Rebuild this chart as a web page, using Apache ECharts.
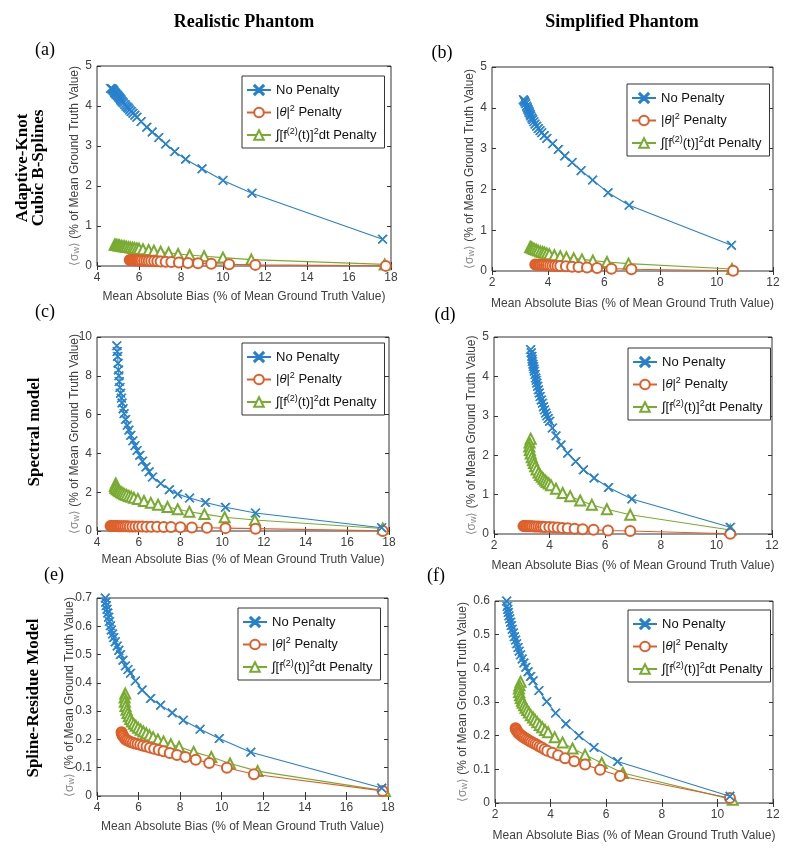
<!DOCTYPE html>
<html>
<head>
<meta charset="utf-8">
<style>html,body{margin:0;padding:0;background:#fff;}#c{width:800px;height:857px;}</style>
<script src="https://cdn.jsdelivr.net/npm/echarts@6/dist/echarts.min.js"></script>
</head>
<body>
<div id="c"></div>
<script>
// ---------- data: [mean absolute bias, <sigma_w>] ----------
const seriesNames = ['No Penalty', '|θ|² Penalty', '∫[f⁽²⁾(t)]²dt Penalty'];

// (a) Realistic phantom, adaptive-knot cubic B-splines
const aNone = [[4.65,4.44],[4.7,4.43],[4.73,4.42],[4.77,4.4],[4.8,4.38],[4.83,4.35],[4.86,4.33],[4.89,4.31],[4.92,4.29],[4.96,4.27],[5.0,4.25],[5.04,4.22],[5.08,4.2],[5.12,4.17],[5.15,4.14],[5.2,4.11],[5.25,4.08],[5.32,4.04],[5.38,4.0],[5.44,3.97],[5.5,3.94],[5.56,3.9],[5.63,3.86],[5.71,3.82],[5.8,3.77],[5.9,3.72],[6.1,3.61],[6.37,3.47],[6.63,3.35],[6.94,3.21],[7.27,3.05],[7.7,2.86],[8.22,2.67],[9.0,2.43],[10.0,2.14],[11.38,1.82],[17.6,0.67]];
const aTheta = [[5.56,0.15],[5.6,0.15],[5.66,0.149],[5.71,0.148],[5.77,0.146],[5.83,0.145],[5.9,0.143],[5.97,0.141],[6.04,0.139],[6.13,0.136],[6.24,0.133],[6.35,0.13],[6.46,0.128],[6.58,0.125],[6.72,0.122],[6.87,0.119],[7.03,0.115],[7.27,0.108],[7.54,0.1],[7.9,0.09],[8.33,0.077],[8.81,0.067],[9.44,0.058],[10.29,0.042],[11.54,0.028],[17.75,0.003]];
const aF2 = [[4.84,0.53],[4.9,0.53],[4.95,0.525],[5.02,0.515],[5.08,0.51],[5.16,0.5],[5.24,0.495],[5.32,0.487],[5.4,0.48],[5.5,0.472],[5.59,0.465],[5.69,0.457],[5.79,0.448],[5.9,0.44],[6.0,0.43],[6.19,0.42],[6.46,0.4],[6.71,0.38],[7.03,0.358],[7.41,0.33],[7.86,0.3],[8.41,0.275],[9.1,0.245],[10.0,0.21],[11.35,0.16],[17.7,0.04]];

// (b) Simplified phantom, adaptive-knot cubic B-splines
const bNone = [[3.12,4.2],[3.15,4.17],[3.17,4.14],[3.2,4.1],[3.23,4.04],[3.26,4.0],[3.28,3.96],[3.31,3.92],[3.33,3.88],[3.36,3.84],[3.38,3.8],[3.42,3.75],[3.45,3.71],[3.49,3.66],[3.53,3.6],[3.59,3.55],[3.65,3.49],[3.71,3.44],[3.77,3.39],[3.86,3.32],[3.95,3.25],[4.16,3.12],[4.36,2.98],[4.59,2.82],[4.85,2.66],[5.17,2.46],[5.58,2.23],[6.13,1.92],[6.88,1.61],[10.52,0.63]];
const bTheta = [[3.54,0.158],[3.58,0.156],[3.63,0.154],[3.68,0.152],[3.73,0.15],[3.79,0.147],[3.85,0.144],[3.92,0.141],[3.99,0.138],[4.07,0.134],[4.15,0.13],[4.24,0.127],[4.33,0.125],[4.43,0.121],[4.63,0.114],[4.85,0.106],[5.08,0.097],[5.38,0.085],[5.74,0.073],[6.25,0.058],[6.96,0.042],[10.58,0.005]];
const bF2 = [[3.36,0.59],[3.4,0.575],[3.45,0.56],[3.5,0.54],[3.57,0.52],[3.64,0.5],[3.72,0.48],[3.8,0.465],[3.87,0.45],[3.95,0.43],[4.04,0.41],[4.22,0.385],[4.43,0.36],[4.65,0.335],[4.91,0.31],[5.2,0.285],[5.59,0.255],[6.09,0.22],[6.86,0.18],[10.54,0.05]];

// (c) Realistic phantom, spectral model
const cNone = [[4.95,9.55],[4.97,9.25],[4.99,9.0],[5.01,8.65],[5.03,8.3],[5.05,8.0],[5.07,7.7],[5.1,7.4],[5.13,7.1],[5.17,6.85],[5.2,6.6],[5.25,6.3],[5.3,6.05],[5.37,5.75],[5.45,5.45],[5.53,5.2],[5.62,4.93],[5.72,4.65],[5.82,4.4],[5.92,4.15],[6.05,3.9],[6.18,3.6],[6.35,3.3],[6.5,3.05],[6.66,2.78],[7.06,2.45],[7.47,2.13],[7.87,1.9],[8.44,1.7],[9.2,1.47],[10.16,1.22],[11.6,0.93],[17.65,0.17]];
const cTheta = [[4.65,0.26],[4.7,0.26],[4.76,0.258],[4.82,0.256],[4.88,0.255],[4.95,0.253],[5.02,0.251],[5.1,0.249],[5.18,0.247],[5.27,0.245],[5.36,0.243],[5.46,0.24],[5.57,0.238],[5.7,0.235],[5.84,0.232],[6.0,0.229],[6.17,0.226],[6.37,0.222],[6.6,0.218],[6.88,0.213],[7.2,0.208],[7.55,0.2],[8.0,0.19],[8.55,0.18],[9.27,0.165],[10.16,0.148],[11.6,0.12],[17.7,0.005]];
const cF2 = [[4.9,2.45],[4.86,2.32],[4.88,2.22],[4.95,2.15],[5.02,2.1],[5.08,2.05],[5.16,2.0],[5.24,1.95],[5.32,1.9],[5.42,1.86],[5.53,1.81],[5.64,1.76],[5.77,1.71],[5.96,1.65],[6.25,1.55],[6.58,1.45],[6.93,1.35],[7.38,1.24],[7.87,1.12],[8.43,0.99],[9.15,0.87],[10.12,0.71],[11.57,0.57],[17.7,0.13]];

// (d) Simplified phantom, spectral model
const dNone = [[3.32,4.68],[3.34,4.6],[3.36,4.51],[3.37,4.44],[3.38,4.38],[3.4,4.31],[3.42,4.25],[3.44,4.19],[3.45,4.13],[3.48,4.05],[3.5,3.96],[3.52,3.9],[3.54,3.83],[3.57,3.75],[3.6,3.66],[3.63,3.58],[3.66,3.49],[3.7,3.4],[3.74,3.32],[3.78,3.23],[3.82,3.15],[3.86,3.07],[3.9,3.0],[3.95,2.93],[4.0,2.86],[4.1,2.69],[4.23,2.49],[4.41,2.26],[4.65,2.05],[4.94,1.84],[5.22,1.63],[5.6,1.42],[6.12,1.18],[6.96,0.89],[10.5,0.17]];
const dTheta = [[3.06,0.2],[3.1,0.2],[3.15,0.198],[3.2,0.197],[3.26,0.196],[3.32,0.195],[3.38,0.194],[3.45,0.192],[3.52,0.19],[3.6,0.188],[3.68,0.185],[3.76,0.183],[3.84,0.18],[3.99,0.175],[4.14,0.17],[4.29,0.162],[4.46,0.155],[4.65,0.145],[4.9,0.133],[5.19,0.12],[5.58,0.105],[6.1,0.09],[6.9,0.077],[10.5,0.005]];
const dF2 = [[3.32,2.42],[3.28,2.32],[3.27,2.22],[3.29,2.13],[3.32,2.04],[3.36,1.95],[3.4,1.87],[3.44,1.8],[3.48,1.72],[3.53,1.64],[3.6,1.56],[3.66,1.5],[3.72,1.45],[3.78,1.4],[3.84,1.36],[3.9,1.32],[3.97,1.28],[4.05,1.24],[4.23,1.15],[4.47,1.04],[4.74,0.96],[5.1,0.85],[5.52,0.74],[6.06,0.63],[6.9,0.49],[10.5,0.1]];

// (e) Realistic phantom, spline-residue model
const eNone = [[4.4,0.7],[4.42,0.685],[4.45,0.673],[4.48,0.66],[4.52,0.647],[4.56,0.632],[4.6,0.617],[4.65,0.602],[4.69,0.587],[4.75,0.573],[4.8,0.56],[4.88,0.545],[4.97,0.53],[5.05,0.515],[5.13,0.5],[5.25,0.48],[5.37,0.46],[5.49,0.447],[5.61,0.434],[5.85,0.407],[6.17,0.375],[6.58,0.345],[7.06,0.321],[7.62,0.294],[8.15,0.268],[8.96,0.236],[9.88,0.203],[11.4,0.155],[17.7,0.028]];
const eTheta = [[5.18,0.225],[5.2,0.22],[5.23,0.215],[5.27,0.21],[5.32,0.205],[5.38,0.2],[5.45,0.197],[5.53,0.194],[5.62,0.191],[5.72,0.188],[5.83,0.186],[5.95,0.184],[6.08,0.181],[6.22,0.178],[6.38,0.175],[6.55,0.171],[6.75,0.167],[6.97,0.163],[7.2,0.158],[7.5,0.152],[7.85,0.145],[8.25,0.138],[8.75,0.128],[9.4,0.117],[10.25,0.1],[11.55,0.077],[17.74,0.018]];
const eF2 = [[5.36,0.362],[5.33,0.348],[5.34,0.333],[5.37,0.318],[5.42,0.305],[5.47,0.293],[5.53,0.282],[5.6,0.272],[5.68,0.263],[5.77,0.255],[5.87,0.248],[5.98,0.241],[6.1,0.234],[6.23,0.228],[6.37,0.222],[6.52,0.215],[6.7,0.208],[6.93,0.2],[7.2,0.193],[7.55,0.183],[7.95,0.174],[8.65,0.156],[9.5,0.138],[10.4,0.115],[11.73,0.088],[17.85,0.018]];

// (f) Simplified phantom, spline-residue model
const fNone = [[2.42,0.6],[2.44,0.584],[2.46,0.575],[2.48,0.566],[2.5,0.556],[2.53,0.547],[2.56,0.537],[2.59,0.527],[2.62,0.516],[2.66,0.505],[2.7,0.494],[2.74,0.484],[2.78,0.473],[2.83,0.462],[2.87,0.451],[2.92,0.44],[2.98,0.428],[3.04,0.416],[3.11,0.403],[3.19,0.39],[3.28,0.376],[3.37,0.363],[3.58,0.334],[3.86,0.301],[4.18,0.267],[4.55,0.235],[5.02,0.2],[5.56,0.165],[6.41,0.123],[10.45,0.02]];
const fTheta = [[2.74,0.222],[2.76,0.218],[2.78,0.215],[2.81,0.211],[2.84,0.208],[2.88,0.205],[2.92,0.202],[2.97,0.199],[3.02,0.196],[3.07,0.193],[3.13,0.19],[3.19,0.187],[3.25,0.184],[3.31,0.181],[3.38,0.178],[3.45,0.175],[3.52,0.172],[3.6,0.168],[3.68,0.165],[3.78,0.16],[3.88,0.155],[4.06,0.149],[4.27,0.142],[4.52,0.133],[4.85,0.124],[5.24,0.114],[5.78,0.099],[6.5,0.08],[10.45,0.015]];
const fF2 = [[2.92,0.36],[2.88,0.35],[2.86,0.34],[2.87,0.33],[2.9,0.32],[2.93,0.312],[2.97,0.304],[3.0,0.298],[3.05,0.29],[3.1,0.283],[3.16,0.276],[3.22,0.269],[3.29,0.261],[3.37,0.254],[3.44,0.247],[3.52,0.24],[3.61,0.232],[3.7,0.225],[3.8,0.217],[3.91,0.21],[4.15,0.195],[4.43,0.18],[4.79,0.162],[5.24,0.143],[5.84,0.119],[6.6,0.089],[10.55,0.01]];

// axis ranges [min, max, interval]
const xRangeReal = [4, 18, 2];
const xRangeSimp = [2, 12, 2];
const yRanges = [[0,5,1],[0,5,1],[0,10,2],[0,5,1],[0,0.7,0.1],[0,0.6,0.1]];

const xName = 'Mean Absolute Bias (% of Mean Ground Truth Value)';
const yName = '{g|⟨σ}{sub|w}{g|⟩} (% of Mean Ground Truth Value)';
const legendLabels = ['No Penalty', '|{i|θ}|{sup|2} Penalty', '∫[f{sup|(2)}(t)]{sup|2}dt Penalty'];
const colTitles = ['Realistic Phantom', 'Simplified Phantom'];
const rowTitles = [['Adaptive-Knot', 'Cubic B-Splines'], ['Spectral model'], ['Spline-Residue Model']];
const panelLetters = ['(a)', '(b)', '(c)', '(d)', '(e)', '(f)'];

// ---------- layout ----------
const panels = [
  {g:[97,66,294,200],  x:xRangeReal, data:[aNone,aTheta,aF2], lg:[242,76],  xGap:25, yGap:16, lt:[45,50]},
  {g:[492,67,281,204], x:xRangeSimp, data:[bNone,bTheta,bF2], lg:[627,84],  xGap:27, yGap:16, lt:[442,53]},
  {g:[97,337,292,194], x:xRangeReal, data:[cNone,cTheta,cF2], lg:[242,343], xGap:23, yGap:16, lt:[45,312]},
  {g:[494,337,278,197],x:xRangeSimp, data:[dNone,dTheta,dF2], lg:[628,348], xGap:26, yGap:16, lt:[445,315]},
  {g:[97,598,291,198], x:xRangeReal, data:[eNone,eTheta,eF2], lg:[238,608], xGap:25, yGap:21, lt:[54,575]},
  {g:[495,601,278,202],x:xRangeSimp, data:[fNone,fTheta,fF2], lg:[628,610], xGap:27, yGap:26, lt:[436,576]}
];

const colors = ['#2581CE', '#DE5F2A', '#77AC30'];
const xPath = 'path://M0,0.8L0.8,0L5,4.2L9.2,0L10,0.8L5.8,5L10,9.2L9.2,10L5,5.8L0.8,10L0,9.2L4.2,5Z';
const symbols = [xPath, 'emptyCircle', 'emptyTriangle'];
const symSizes = [9, 10, 10];

const axisTxt = '#404040';
const boxCol = '#333';
const sans = 'Liberation Sans, Arial, sans-serif';
const serif = 'Liberation Serif, Times New Roman, serif';

const grids = [], xAxes = [], yAxes = [], series = [], legends = [], graphics = [];

panels.forEach((p, i) => {
  grids.push({left:p.g[0], top:p.g[1], width:p.g[2], height:p.g[3], show:true, borderColor:boxCol, borderWidth:1, backgroundColor:'transparent', containLabel:false});
  const yr = yRanges[i];
  const tick = {show:true, inside:true, length:4, lineStyle:{color:boxCol, width:1}};
  xAxes.push({type:'value', gridIndex:i, position:'bottom', min:p.x[0], max:p.x[1], interval:p.x[2],
    axisLine:{show:false}, axisTick:tick, splitLine:{show:false},
    axisLabel:{color:axisTxt, fontSize:12, fontFamily:sans, margin:6},
    name:xName, nameLocation:'middle', nameGap:p.xGap, nameMoveOverlap:false,
    nameTextStyle:{color:axisTxt, fontSize:12, fontFamily:sans}});
  xAxes.push({type:'value', gridIndex:i, position:'top', min:p.x[0], max:p.x[1], interval:p.x[2],
    axisLine:{show:false}, axisTick:tick, splitLine:{show:false}, axisLabel:{show:false}});
  yAxes.push({type:'value', gridIndex:i, position:'left', min:yr[0], max:yr[1], interval:yr[2],
    axisLine:{show:false}, axisTick:tick, splitLine:{show:false},
    axisLabel:{color:axisTxt, fontSize:12, fontFamily:sans, margin:5, formatter:v => String(Math.round(v*10)/10)},
    name:yName, nameLocation:'middle', nameGap:p.yGap, nameRotate:90, nameMoveOverlap:false,
    nameTextStyle:{color:axisTxt, fontSize:12, fontFamily:sans,
      rich:{g:{color:'#8a8a8a', fontSize:12, fontFamily:sans}, sub:{color:'#8a8a8a', fontSize:9, fontFamily:sans, verticalAlign:'bottom'}}}});
  yAxes.push({type:'value', gridIndex:i, position:'right', min:yr[0], max:yr[1], interval:yr[2],
    axisLine:{show:false}, axisTick:tick, splitLine:{show:false}, axisLabel:{show:false}});

  p.data.forEach((d, k) => {
    series.push({type:'line', name:seriesNames[k], xAxisIndex:2*i, yAxisIndex:2*i, data:d,
      symbol:symbols[k], symbolSize:symSizes[k], showAllSymbol:true, showSymbol:true,
      lineStyle:{color:colors[k], width:1.1},
      itemStyle:{color:colors[k], borderColor:colors[k], borderWidth:1},
      z: 3 - k, animation:false, silent:true});
  });

  legends.push({orient:'vertical', left:p.lg[0], top:p.lg[1], data:seriesNames,
    borderColor:boxCol, borderWidth:1, backgroundColor:'#fff', padding:[6,8,5,4],
    itemWidth:24, itemHeight:12, itemGap:6.5, selectedMode:false, z:10,
    textStyle:{color:'#111', fontSize:13, fontFamily:sans, lineHeight:16,
      rich:{i:{fontStyle:'italic', fontSize:13, fontFamily:sans, color:'#111', lineHeight:16},
            sup:{fontSize:9, fontFamily:sans, color:'#111', verticalAlign:'top', lineHeight:16}}},
    formatter: n => legendLabels[seriesNames.indexOf(n)]});

  graphics.push({type:'text', x:p.lt[0], y:p.lt[1], style:{text:panelLetters[i], font:'18px ' + serif, fill:'#000', align:'center', verticalAlign:'middle'}});
});

// column titles
graphics.push({type:'text', x:244, y:22, style:{text:colTitles[0], font:'bold 18px ' + serif, fill:'#000', align:'center', verticalAlign:'middle'}});
graphics.push({type:'text', x:622, y:22, style:{text:colTitles[1], font:'bold 18px ' + serif, fill:'#000', align:'center', verticalAlign:'middle'}});
// row titles (rotated)
const rowPos = [[[23,168],[39,168]], [[35,432]], [[34,698]]];
rowTitles.forEach((lines, r) => {
  lines.forEach((t, j) => {
    graphics.push({type:'text', x:rowPos[r][j][0], y:rowPos[r][j][1], rotation:Math.PI/2,
      style:{text:t, font:'bold 17px ' + serif, fill:'#000', align:'center', verticalAlign:'middle'}});
  });
});

const chart = echarts.init(document.getElementById('c'), null, {renderer:'canvas'});
chart.setOption({
  animation:false,
  backgroundColor:'#fff',
  grid:grids, xAxis:xAxes, yAxis:yAxes, series:series, legend:legends, graphic:graphics
});
</script>
</body>
</html>
